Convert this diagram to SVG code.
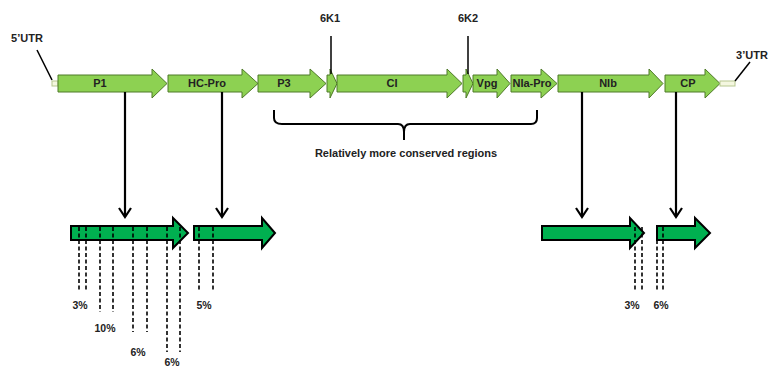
<svg xmlns="http://www.w3.org/2000/svg" width="778" height="367" viewBox="0 0 778 367">
<style>
.g{fill:#8DD152;stroke:#4F7A28;stroke-width:1}
.b{fill:#00B050;stroke:#000;stroke-width:2}
.t{font-family:"Liberation Sans",Arial,sans-serif;font-weight:bold;font-size:11px;fill:#222;text-anchor:middle}
.p{font-size:10.5px}
.ln{stroke:#000;stroke-width:1.5;fill:none}
.va{stroke:#000;stroke-width:2.2;fill:none}
.d{stroke:#000;stroke-width:1.6;stroke-dasharray:4,2.5;fill:none}
.u{fill:#f4f7e0;stroke:#b8c890;stroke-width:1}
</style>
<rect width="778" height="367" fill="#fff"/>
<g id="utr5"><rect class="u" x="52" y="81" width="6" height="5"/><line class="ln" x1="37" y1="50" x2="52" y2="80"/><text class="t" x="27" y="42">5’UTR</text></g>
<g id="P1"><path class="g" d="M58,75H152V69L167,83.5L152,98V92H58Z"/><text class="t" x="100" y="87">P1</text></g>
<g id="HC-Pro"><path class="g" d="M168,75H242V69L258,83.5L242,98V92H168Z"/><text class="t" x="207" y="87">HC-Pro</text></g>
<g id="P3"><path class="g" d="M258,75H310V69L326,83.5L310,98V92H258Z"/><text class="t" x="284" y="87">P3</text></g>
<g id="6K1"><path class="g" d="M327,75H330V69L337,83.5L330,98V92H327Z"/><line class="ln" x1="331" y1="36" x2="331" y2="74"/><text class="t" x="330" y="22">6K1</text></g>
<g id="CI"><path class="g" d="M337,75H447V69L462,83.5L447,98V92H337Z"/><text class="t" x="392" y="87">CI</text></g>
<g id="6K2"><path class="g" d="M463,75H466V69L473,83.5L466,98V92H463Z"/><line class="ln" x1="468" y1="36" x2="468" y2="74"/><text class="t" x="468" y="22">6K2</text></g>
<g id="Vpg"><path class="g" d="M473,75H497V69L510,83.5L497,98V92H473Z"/><text class="t" x="487" y="87">Vpg</text></g>
<g id="NIa-Pro"><path class="g" d="M511,75H541V69L557,83.5L541,98V92H511Z"/><text class="t" x="532" y="87">NIa-Pro</text></g>
<g id="NIb"><path class="g" d="M558,75H649V69L663,83.5L649,98V92H558Z"/><text class="t" x="608" y="87">NIb</text></g>
<g id="CP"><path class="g" d="M665,75H705V69L720,83.5L705,98V92H665Z"/><text class="t" x="688" y="87">CP</text></g>
<g id="utr3"><rect class="u" x="720" y="81" width="15" height="5"/><line class="ln" x1="735" y1="81" x2="750" y2="62"/><text class="t" x="752" y="59" text-anchor="start">3’UTR</text></g>
<g id="brace"><path d="M274,110V118Q274,124 282,124H398Q404,124 404,132V140M404,132Q404,124 410,124H531Q537,124 537,118V110" fill="none" stroke="#000" stroke-width="2"/><text class="t" x="406" y="157">Relatively more conserved  regions</text></g>
<g id="connectors">
<line class="va" x1="125" y1="92" x2="125" y2="217"/><path class="va" d="M119,208L125,217L131,208"/>
<line class="va" x1="222" y1="92" x2="222" y2="217"/><path class="va" d="M216,208L222,217L228,208"/>
<line class="va" x1="582" y1="92" x2="582" y2="217"/><path class="va" d="M576,208L582,217L588,208"/>
<line class="va" x1="676" y1="92" x2="676" y2="217"/><path class="va" d="M670,208L676,217L682,208"/>
</g>
<g id="P1-detail"><path class="b" d="M71,226H173V218L188,233L173,248V240H71Z"/>
<line class="d" x1="79" y1="227" x2="79" y2="291"/><line class="d" x1="86" y1="227" x2="86" y2="291"/>
<line class="d" x1="100" y1="227" x2="100" y2="312"/><line class="d" x1="113" y1="227" x2="113" y2="312"/>
<line class="d" x1="133" y1="227" x2="133" y2="332"/><line class="d" x1="147" y1="227" x2="147" y2="332"/>
<line class="d" x1="167" y1="227" x2="167" y2="352"/><line class="d" x1="180" y1="227" x2="180" y2="352"/>
<text class="t p" x="80" y="309">3%</text>
<text class="t p" x="105" y="332">10%</text>
<text class="t p" x="138" y="356">6%</text>
<text class="t p" x="172" y="366">6%</text></g>
<g id="HC-Pro-detail"><path class="b" d="M194,226H262V218L275,233L262,248V240H194Z"/>
<line class="d" x1="199" y1="227" x2="199" y2="290"/><line class="d" x1="213" y1="227" x2="213" y2="290"/>
<text class="t p" x="204" y="309">5%</text></g>
<g id="NIb-detail"><path class="b" d="M542,226H630V218L644,233L630,248V240H542Z"/>
<line class="d" x1="635" y1="227" x2="635" y2="290"/><line class="d" x1="642" y1="227" x2="642" y2="290"/>
<text class="t p" x="632" y="309">3%</text></g>
<g id="CP-detail"><path class="b" d="M657,226H695V218L710,233L695,248V240H657Z"/>
<line class="d" x1="657" y1="227" x2="657" y2="290"/><line class="d" x1="663" y1="227" x2="663" y2="290"/>
<text class="t p" x="661" y="309">6%</text></g>
</svg>
